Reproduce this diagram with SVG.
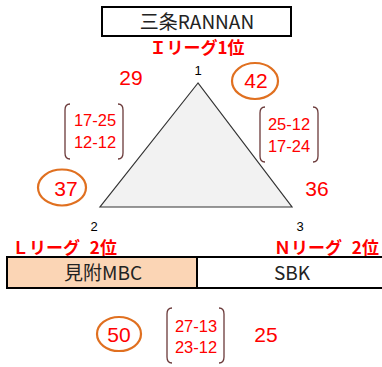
<svg xmlns="http://www.w3.org/2000/svg" width="382" height="367" viewBox="0 0 382 367">
<style>
text{font-family:"Noto Sans CJK JP","Liberation Sans",sans-serif;}
.score{font-family:"Liberation Sans",sans-serif;font-size:21px;fill:#ff0000;text-anchor:middle;}
.set{font-family:"Liberation Sans",sans-serif;font-size:16.5px;fill:#ff0000;text-anchor:middle;}
.lg{font-size:17px;font-weight:bold;fill:#ff0000;}
.lg2{word-spacing:6px;}
.num{font-family:"Liberation Sans",sans-serif;font-size:13px;fill:#000;text-anchor:middle;}
.win{fill:none;stroke:#e07020;stroke-width:2.2;}
.br{fill:none;stroke:#6b3a3a;stroke-width:1.3;}
.team{font-size:19px;fill:#222;text-anchor:middle;}
</style>
<g id="top-team">
<rect x="102" y="7" width="189" height="29" fill="#fff" stroke="#000" stroke-width="2"/>
<text class="team" x="197" y="28.5">三条RANNAN</text>
</g>
<text class="lg" x="197" y="53.5" text-anchor="middle">Ｉリーグ1位</text>
<g id="triangle">
<polygon points="198,83 100,207 292,207" fill="#f2f2f2" stroke="#333" stroke-width="1.2"/>
<text class="num" x="198" y="75">1</text>
<text class="num" x="94" y="231">2</text>
<text class="num" x="300" y="231">3</text>
</g>
<g id="score-1-2">
<text class="score" x="131" y="84.5">29</text>
<path class="br" d="M70,104 Q65,104 65,110 L65,153 Q65,159 70,159"/>
<path class="br" d="M118,104 Q123,104 123,110 L123,153 Q123,159 118,159"/>
<text class="set" x="95" y="126">17-25</text>
<text class="set" x="95" y="148">12-12</text>
<ellipse class="win" cx="62" cy="187.5" rx="24" ry="18"/>
<text class="score" x="66" y="196">37</text>
</g>
<g id="score-1-3">
<ellipse class="win" cx="255" cy="81" rx="23" ry="18"/>
<text class="score" x="256" y="88">42</text>
<path class="br" d="M265,107 Q260,107 260,113 L260,156 Q260,162 265,162"/>
<path class="br" d="M313,107 Q318,107 318,113 L318,156 Q318,162 313,162"/>
<text class="set" x="289" y="130">25-12</text>
<text class="set" x="289" y="152">17-24</text>
<text class="score" x="317" y="196">36</text>
</g>
<text class="lg lg2" x="12" y="253.5">Ｌリーグ 2位</text>
<text class="lg lg2" x="274" y="253.5">Ｎリーグ 2位</text>
<g id="team-2">
<rect x="7" y="257" width="190" height="31" fill="#fbd5b5" stroke="#000" stroke-width="2"/>
<text class="team" x="103" y="279.5">見附MBC</text>
</g>
<g id="team-3">
<rect x="197" y="257" width="190" height="31" fill="#fff" stroke="#000" stroke-width="2"/>
<text class="team" x="292" y="279.5">SBK</text>
</g>
<g id="score-2-3">
<ellipse class="win" cx="119" cy="334" rx="22" ry="17"/>
<text class="score" x="119" y="341.5">50</text>
<path class="br" d="M172,308 Q167,308 167,314 L167,357 Q167,363 172,363"/>
<path class="br" d="M219,308 Q224,308 224,314 L224,357 Q224,363 219,363"/>
<text class="set" x="196" y="332">27-13</text>
<text class="set" x="196" y="353">23-12</text>
<text class="score" x="266" y="341.5">25</text>
</g>
</svg>
